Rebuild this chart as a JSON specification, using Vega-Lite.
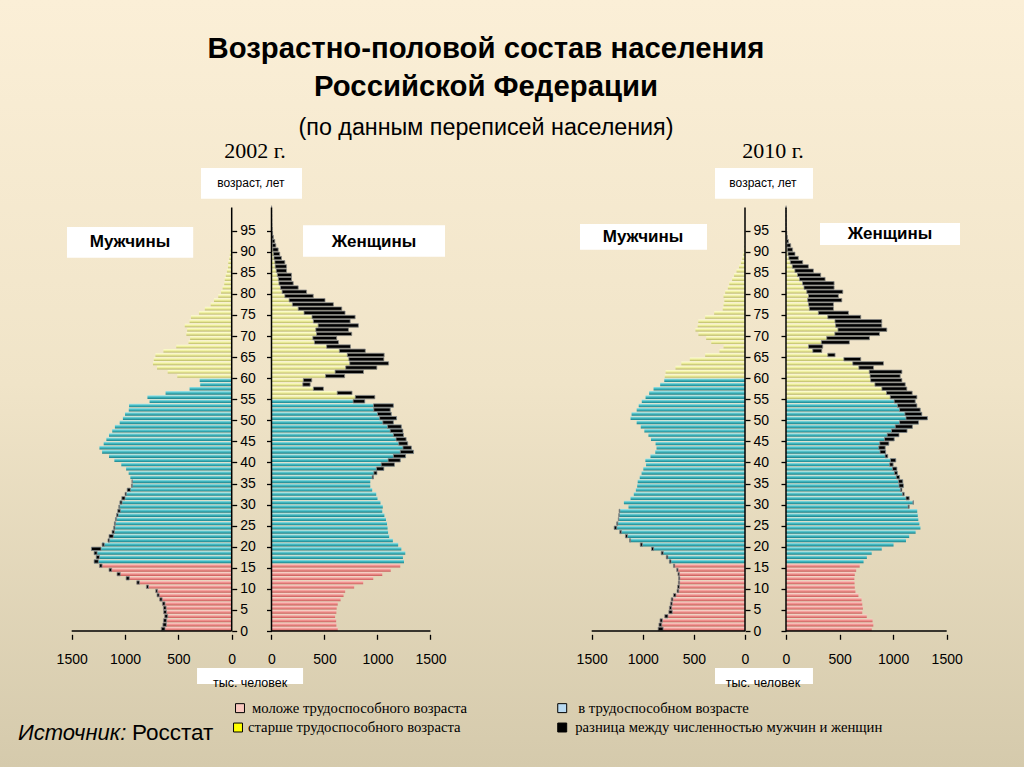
{
"$schema": "https://vega.github.io/schema/vega-lite/v6.json",
"width": 1024, "height": 767,
"autosize": {"type": "none"},
"padding": 0,
"background": "#ece1c5",
"config": {"view": {"stroke": null, "fill": {"gradient": "linear", "x1": 0, "y1": 0, "x2": 0, "y2": 1, "stops": [{"offset": 0, "color": "#fbefd7"}, {"offset": 0.5, "color": "#f0e4c8"}, {"offset": 1, "color": "#d5caac"}]}}},
"datasets": {"pop": [
{"year":2002,"age":0,"m":660,"f":625},{"year":2002,"age":1,"m":645,"f":612},{"year":2002,"age":2,"m":640,"f":610},{"year":2002,"age":3,"m":628,"f":600},{"year":2002,"age":4,"m":638,"f":612},
{"year":2002,"age":5,"m":640,"f":615},{"year":2002,"age":6,"m":650,"f":625},{"year":2002,"age":7,"m":675,"f":652},{"year":2002,"age":8,"m":700,"f":680},{"year":2002,"age":9,"m":712,"f":695},
{"year":2002,"age":10,"m":800,"f":780},{"year":2002,"age":11,"m":890,"f":865},{"year":2002,"age":12,"m":990,"f":960},{"year":2002,"age":13,"m":1075,"f":1045},{"year":2002,"age":14,"m":1150,"f":1125},
{"year":2002,"age":15,"m":1240,"f":1215},{"year":2002,"age":16,"m":1290,"f":1250},{"year":2002,"age":17,"m":1270,"f":1240},{"year":2002,"age":18,"m":1290,"f":1262},{"year":2002,"age":19,"m":1315,"f":1225},
{"year":2002,"age":20,"m":1215,"f":1195},{"year":2002,"age":21,"m":1160,"f":1145},{"year":2002,"age":22,"m":1150,"f":1110},{"year":2002,"age":23,"m":1122,"f":1100},{"year":2002,"age":24,"m":1106,"f":1095},
{"year":2002,"age":25,"m":1100,"f":1090},{"year":2002,"age":26,"m":1090,"f":1080},{"year":2002,"age":27,"m":1080,"f":1065},{"year":2002,"age":28,"m":1068,"f":1045},{"year":2002,"age":29,"m":1058,"f":1050},
{"year":2002,"age":30,"m":1048,"f":1028},{"year":2002,"age":31,"m":1030,"f":1000},{"year":2002,"age":32,"m":1000,"f":988},{"year":2002,"age":33,"m":980,"f":950},{"year":2002,"age":34,"m":940,"f":932},
{"year":2002,"age":35,"m":935,"f":932},{"year":2002,"age":36,"m":950,"f":962},{"year":2002,"age":37,"m":966,"f":995},{"year":2002,"age":38,"m":990,"f":1060},{"year":2002,"age":39,"m":1035,"f":1160},
{"year":2002,"age":40,"m":1100,"f":1215},{"year":2002,"age":41,"m":1150,"f":1265},{"year":2002,"age":42,"m":1215,"f":1340},{"year":2002,"age":43,"m":1240,"f":1320},{"year":2002,"age":44,"m":1200,"f":1285},
{"year":2002,"age":45,"m":1175,"f":1270},{"year":2002,"age":46,"m":1150,"f":1245},{"year":2002,"age":47,"m":1120,"f":1240},{"year":2002,"age":48,"m":1095,"f":1225},{"year":2002,"age":49,"m":1050,"f":1150},
{"year":2002,"age":50,"m":1020,"f":1180},{"year":2002,"age":51,"m":1000,"f":1130},{"year":2002,"age":52,"m":965,"f":1120},{"year":2002,"age":53,"m":962,"f":1150},{"year":2002,"age":54,"m":770,"f":880},
{"year":2002,"age":55,"m":790,"f":975},{"year":2002,"age":56,"m":620,"f":760},{"year":2002,"age":57,"m":395,"f":490},{"year":2002,"age":58,"m":295,"f":365},{"year":2002,"age":59,"m":300,"f":380},
{"year":2002,"age":60,"m":510,"f":690},{"year":2002,"age":61,"m":600,"f":868},{"year":2002,"age":62,"m":700,"f":994},{"year":2002,"age":63,"m":738,"f":1105},{"year":2002,"age":64,"m":730,"f":1060},
{"year":2002,"age":65,"m":715,"f":1063},{"year":2002,"age":66,"m":640,"f":885},{"year":2002,"age":67,"m":520,"f":745},{"year":2002,"age":68,"m":405,"f":632},{"year":2002,"age":69,"m":390,"f":615},
{"year":2002,"age":70,"m":425,"f":757},{"year":2002,"age":71,"m":418,"f":726},{"year":2002,"age":72,"m":440,"f":820},{"year":2002,"age":73,"m":395,"f":742},{"year":2002,"age":74,"m":382,"f":789},
{"year":2002,"age":75,"m":307,"f":694},{"year":2002,"age":76,"m":252,"f":663},{"year":2002,"age":77,"m":197,"f":584},{"year":2002,"age":78,"m":166,"f":505},{"year":2002,"age":79,"m":126,"f":394},
{"year":2002,"age":80,"m":100,"f":331},{"year":2002,"age":81,"m":85,"f":252},{"year":2002,"age":82,"m":70,"f":205},{"year":2002,"age":83,"m":65,"f":189},{"year":2002,"age":84,"m":55,"f":189},
{"year":2002,"age":85,"m":45,"f":142},{"year":2002,"age":86,"m":35,"f":142},{"year":2002,"age":87,"m":32,"f":126},{"year":2002,"age":88,"m":23,"f":94},{"year":2002,"age":89,"m":17,"f":78},
{"year":2002,"age":90,"m":12,"f":63},{"year":2002,"age":91,"m":8,"f":41},{"year":2002,"age":92,"m":6,"f":31},{"year":2002,"age":93,"m":4,"f":18},{"year":2002,"age":94,"m":3,"f":10},
{"year":2002,"age":95,"m":2,"f":6},{"year":2002,"age":96,"m":1.5,"f":4},{"year":2002,"age":97,"m":1,"f":3},{"year":2002,"age":98,"m":0.8,"f":2},{"year":2002,"age":99,"m":0.5,"f":1.5},{"year":2002,"age":100,"m":0.4,"f":1},
{"year":2010,"age":0,"m":850,"f":801},{"year":2010,"age":1,"m":842,"f":815},{"year":2010,"age":2,"m":832,"f":808},{"year":2010,"age":3,"m":785,"f":754},{"year":2010,"age":4,"m":745,"f":712},
{"year":2010,"age":5,"m":740,"f":718},{"year":2010,"age":6,"m":730,"f":712},{"year":2010,"age":7,"m":722,"f":705},{"year":2010,"age":8,"m":700,"f":676},{"year":2010,"age":9,"m":665,"f":648},
{"year":2010,"age":10,"m":660,"f":642},{"year":2010,"age":11,"m":652,"f":640},{"year":2010,"age":12,"m":650,"f":638},{"year":2010,"age":13,"m":656,"f":642},{"year":2010,"age":14,"m":668,"f":655},
{"year":2010,"age":15,"m":700,"f":688},{"year":2010,"age":16,"m":740,"f":724},{"year":2010,"age":17,"m":770,"f":755},{"year":2010,"age":18,"m":820,"f":800},{"year":2010,"age":19,"m":915,"f":894},
{"year":2010,"age":20,"m":1025,"f":1004},{"year":2010,"age":21,"m":1130,"f":1120},{"year":2010,"age":22,"m":1170,"f":1150},{"year":2010,"age":23,"m":1225,"f":1210},{"year":2010,"age":24,"m":1280,"f":1255},
{"year":2010,"age":25,"m":1255,"f":1245},{"year":2010,"age":26,"m":1240,"f":1235},{"year":2010,"age":27,"m":1235,"f":1230},{"year":2010,"age":28,"m":1232,"f":1225},{"year":2010,"age":29,"m":1140,"f":1150},
{"year":2010,"age":30,"m":1185,"f":1190},{"year":2010,"age":31,"m":1120,"f":1150},{"year":2010,"age":32,"m":1088,"f":1103},{"year":2010,"age":33,"m":1068,"f":1082},{"year":2010,"age":34,"m":1055,"f":1097},
{"year":2010,"age":35,"m":1050,"f":1090},{"year":2010,"age":36,"m":1030,"f":1060},{"year":2010,"age":37,"m":1012,"f":1040},{"year":2010,"age":38,"m":995,"f":1035},{"year":2010,"age":39,"m":968,"f":1000},
{"year":2010,"age":40,"m":975,"f":1025},{"year":2010,"age":41,"m":925,"f":950},{"year":2010,"age":42,"m":878,"f":930},{"year":2010,"age":43,"m":866,"f":926},{"year":2010,"age":44,"m":875,"f":960},
{"year":2010,"age":45,"m":920,"f":1010},{"year":2010,"age":46,"m":945,"f":1055},{"year":2010,"age":47,"m":985,"f":1130},{"year":2010,"age":48,"m":1020,"f":1180},{"year":2010,"age":49,"m":1060,"f":1237},
{"year":2010,"age":50,"m":1120,"f":1320},{"year":2010,"age":51,"m":1110,"f":1268},{"year":2010,"age":52,"m":1060,"f":1253},{"year":2010,"age":53,"m":1040,"f":1222},{"year":2010,"age":54,"m":1010,"f":1206},
{"year":2010,"age":55,"m":973,"f":1222},{"year":2010,"age":56,"m":938,"f":1178},{"year":2010,"age":57,"m":895,"f":1128},{"year":2010,"age":58,"m":830,"f":1113},{"year":2010,"age":59,"m":790,"f":1082},
{"year":2010,"age":60,"m":785,"f":1066},{"year":2010,"age":61,"m":777,"f":1082},{"year":2010,"age":62,"m":680,"f":817},{"year":2010,"age":63,"m":623,"f":910},{"year":2010,"age":64,"m":540,"f":698},
{"year":2010,"age":65,"m":390,"f":458},{"year":2010,"age":66,"m":250,"f":334},{"year":2010,"age":67,"m":210,"f":343},{"year":2010,"age":68,"m":330,"f":592},{"year":2010,"age":69,"m":380,"f":779},
{"year":2010,"age":70,"m":456,"f":873},{"year":2010,"age":71,"m":485,"f":941},{"year":2010,"age":72,"m":463,"f":894},{"year":2010,"age":73,"m":457,"f":894},{"year":2010,"age":74,"m":390,"f":698},
{"year":2010,"age":75,"m":302,"f":583},{"year":2010,"age":76,"m":218,"f":443},{"year":2010,"age":77,"m":210,"f":443},{"year":2010,"age":78,"m":202,"f":521},{"year":2010,"age":79,"m":210,"f":489},
{"year":2010,"age":80,"m":194,"f":530},{"year":2010,"age":81,"m":168,"f":449},{"year":2010,"age":82,"m":154,"f":449},{"year":2010,"age":83,"m":126,"f":365},{"year":2010,"age":84,"m":107,"f":324},
{"year":2010,"age":85,"m":83,"f":256},{"year":2010,"age":86,"m":59,"f":209},{"year":2010,"age":87,"m":40,"f":156},{"year":2010,"age":88,"m":27,"f":115},{"year":2010,"age":89,"m":18,"f":84},
{"year":2010,"age":90,"m":11,"f":62},{"year":2010,"age":91,"m":7,"f":44},{"year":2010,"age":92,"m":4,"f":22},{"year":2010,"age":93,"m":3,"f":13},{"year":2010,"age":94,"m":2,"f":8},
{"year":2010,"age":95,"m":1.5,"f":5},{"year":2010,"age":96,"m":1,"f":3},{"year":2010,"age":97,"m":0.7,"f":2},{"year":2010,"age":98,"m":0.5,"f":1.5},{"year":2010,"age":99,"m":0.3,"f":1},{"year":2010,"age":100,"m":0.2,"f":0.8}
]},
"data": {"name": "pop"},
"resolve": {"scale": {"x": "independent"}, "axis": {"x": "independent", "y": "independent"}},
"layer": [
{"layer": [
 {"transform": [{"filter": "datum.year === 2002 && datum.age < 16"}],
  "mark": {"type": "bar", "orient": "horizontal", "size": 3.6, "yOffset": -2.135, "color": {"gradient": "linear", "x1": 0, "y1": 0, "x2": 0, "y2": 1, "stops": [{"offset": 0, "color": "#fcd3cf"}, {"offset": 0.5, "color": "#f0918d"}, {"offset": 1, "color": "#c65c5a"}]}},
  "encoding": {"x": {"field": "m", "type": "quantitative", "scale": {"domain": [-7427.5, 2172.1], "reverse": true, "nice": false, "zero": false}, "axis": {"values": [0, 500, 1000, 1500], "orient": "bottom", "offset": -132.7, "domain": false, "grid": false, "tickSize": 5, "tickColor": "#000", "tickWidth": 1.3, "labelFont": "Liberation Sans", "labelFontSize": 14, "labelColor": "#000", "labelPadding": 13, "labelFlush": false, "labelOverlap": false, "format": "d", "title": null}},
   "y": {"field": "age", "type": "quantitative", "scale": {"domain": [-31.08, 148.55], "nice": false, "zero": false}, "axis": {"values": [0,5,10,15,20,25,30,35,40,45,50,55,60,65,70,75,80,85,90,95], "orient": "right", "offset": -792.3, "domain": false, "grid": false, "tickSize": 5, "tickColor": "#000", "tickWidth": 1.3, "labelFont": "Liberation Sans", "labelFontSize": 14, "labelColor": "#000", "labelPadding": 3, "labelOverlap": false, "labelFlush": false, "title": null}}}},
 {"transform": [{"filter": "datum.year === 2002 && datum.age >= 16 && datum.age < 60"}],
  "mark": {"type": "bar", "orient": "horizontal", "size": 3.6, "yOffset": -2.135, "color": {"gradient": "linear", "x1": 0, "y1": 0, "x2": 0, "y2": 1, "stops": [{"offset": 0, "color": "#a9e7ea"}, {"offset": 0.5, "color": "#3fb8c0"}, {"offset": 1, "color": "#1e7f88"}]}},
  "encoding": {"x": {"field": "m", "type": "quantitative", "scale": {"domain": [-7427.5, 2172.1], "reverse": true, "nice": false, "zero": false}},
   "y": {"field": "age", "type": "quantitative", "scale": {"domain": [-31.08, 148.55], "nice": false, "zero": false}}}},
 {"transform": [{"filter": "datum.year === 2002 && datum.age >= 60"}],
  "mark": {"type": "bar", "orient": "horizontal", "size": 3.6, "yOffset": -2.135, "color": {"gradient": "linear", "x1": 0, "y1": 0, "x2": 0, "y2": 1, "stops": [{"offset": 0, "color": "#fefed8"}, {"offset": 0.5, "color": "#eeee9c"}, {"offset": 1, "color": "#b9b967"}]}},
  "encoding": {"x": {"field": "m", "type": "quantitative", "scale": {"domain": [-7427.5, 2172.1], "reverse": true, "nice": false, "zero": false}},
   "y": {"field": "age", "type": "quantitative", "scale": {"domain": [-31.08, 148.55], "nice": false, "zero": false}}}},
 {"transform": [{"filter": "datum.year === 2002 && datum.m > datum.f"}],
  "mark": {"type": "bar", "orient": "horizontal", "size": 3.4, "yOffset": -2.135, "color": "#000", "stroke": "#8c8c8c", "strokeWidth": 0.8},
  "encoding": {"x": {"field": "f", "type": "quantitative", "scale": {"domain": [-7427.5, 2172.1], "reverse": true, "nice": false, "zero": false}}, "x2": {"field": "m"},
   "y": {"field": "age", "type": "quantitative", "scale": {"domain": [-31.08, 148.55], "nice": false, "zero": false}}}},
 {"data": {"values": [{}]},
  "encoding": {"x": {"datum": 0, "type": "quantitative", "scale": {"domain": [-7427.5, 2172.1], "reverse": true, "nice": false, "zero": false}},
   "y": {"datum": 0, "type": "quantitative", "scale": {"domain": [-31.08, 148.55], "nice": false, "zero": false}}},
  "layer": [
   {"mark": {"type": "rule", "color": "#000", "strokeWidth": 1.5}, "encoding": {"y2": {"datum": 100.5}}},
   {"mark": {"type": "rule", "color": "#000", "strokeWidth": 1.5}, "encoding": {"x2": {"datum": 1500}}},
   {"mark": {"type": "rect", "fill": "#ffffff"}, "encoding": {"x": {"datum": 1544.2, "type": "quantitative"}, "x2": {"datum": 361}, "y": {"datum": 95.85, "type": "quantitative"}, "y2": {"datum": 88.6}}},
   {"mark": {"type": "text", "text": "Мужчины", "font": "Liberation Sans", "fontWeight": "bold", "fontSize": 17, "align": "center", "baseline": "middle", "color": "#000"}, "encoding": {"x": {"datum": 953.4, "type": "quantitative"}, "y": {"datum": 92.2, "type": "quantitative"}}},
   {"mark": {"type": "rect", "fill": "#ffffff"}, "encoding": {"x": {"datum": 288, "type": "quantitative"}, "x2": {"datum": -659}, "y": {"datum": 109.9, "type": "quantitative"}, "y2": {"datum": 102.6}}},
   {"mark": {"type": "text", "text": "возраст, лет", "font": "Liberation Sans", "fontSize": 12, "align": "center", "baseline": "middle", "color": "#000"}, "encoding": {"x": {"datum": -180, "type": "quantitative"}, "y": {"datum": 106.4, "type": "quantitative"}}},
   {"mark": {"type": "rect", "fill": "#ffffff"}, "encoding": {"x": {"datum": 325, "type": "quantitative"}, "x2": {"datum": -669}, "y": {"datum": -8.8, "type": "quantitative"}, "y2": {"datum": -12.6}}},
   {"mark": {"type": "text", "text": "тыс. человек", "font": "Liberation Sans", "fontSize": 12.5, "align": "center", "baseline": "middle", "color": "#000"}, "encoding": {"x": {"datum": -172, "type": "quantitative"}, "y": {"datum": -12.3, "type": "quantitative"}}},
   {"mark": {"type": "text", "text": "2002 г.", "font": "Liberation Serif", "fontSize": 22, "align": "center", "baseline": "alphabetic", "color": "#000"}, "encoding": {"x": {"datum": -218.4, "type": "quantitative"}, "y": {"datum": 112.2, "type": "quantitative"}}},
   {"mark": {"type": "text", "text": "Источник:", "font": "Liberation Sans", "fontStyle": "italic", "fontSize": 22, "align": "left", "baseline": "alphabetic", "color": "#000"}, "encoding": {"x": {"datum": 2003.4, "type": "quantitative"}, "y": {"datum": -25.9, "type": "quantitative"}}},
   {"mark": {"type": "text", "text": "Росстат", "font": "Liberation Sans", "fontSize": 22.5, "align": "left", "baseline": "alphabetic", "color": "#000"}, "encoding": {"x": {"datum": 934.7, "type": "quantitative"}, "y": {"datum": -25.9, "type": "quantitative"}}},
   {"mark": {"type": "square", "size": 80, "filled": true, "fill": "#f9c8bf", "stroke": "#000", "strokeWidth": 1, "opacity": 1}, "encoding": {"x": {"datum": -77.8, "type": "quantitative"}, "y": {"datum": -18.3, "type": "quantitative"}}},
   {"mark": {"type": "text", "text": "моложе трудоспособного возраста", "font": "Liberation Serif", "fontSize": 14.7, "align": "left", "baseline": "middle", "color": "#000"}, "encoding": {"x": {"datum": -190.3, "type": "quantitative"}, "y": {"datum": -18.4, "type": "quantitative"}}},
   {"mark": {"type": "square", "size": 80, "filled": true, "fill": "#ffff00", "stroke": "#000", "strokeWidth": 1, "opacity": 1}, "encoding": {"x": {"datum": -59.1, "type": "quantitative"}, "y": {"datum": -22.9, "type": "quantitative"}}},
   {"mark": {"type": "text", "text": "старше трудоспособного возраста", "font": "Liberation Serif", "fontSize": 14.7, "align": "left", "baseline": "middle", "color": "#000"}, "encoding": {"x": {"datum": -152.8, "type": "quantitative"}, "y": {"datum": -23.1, "type": "quantitative"}}},
   {"mark": {"type": "square", "size": 80, "filled": true, "fill": "#b8d9f0", "stroke": "#000", "strokeWidth": 1, "opacity": 1}, "encoding": {"x": {"datum": -3098.5, "type": "quantitative"}, "y": {"datum": -18.3, "type": "quantitative"}}},
   {"mark": {"type": "text", "text": "в трудоспособном возрасте", "font": "Liberation Serif", "fontSize": 14.7, "align": "left", "baseline": "middle", "color": "#000"}, "encoding": {"x": {"datum": -3248.5, "type": "quantitative"}, "y": {"datum": -18.4, "type": "quantitative"}}},
   {"mark": {"type": "square", "size": 80, "filled": true, "fill": "#000000", "stroke": "#000", "strokeWidth": 1, "opacity": 1}, "encoding": {"x": {"datum": -3098.5, "type": "quantitative"}, "y": {"datum": -22.9, "type": "quantitative"}}},
   {"mark": {"type": "text", "text": "разница между численностью мужчин и женщин", "font": "Liberation Serif", "fontSize": 14.7, "align": "left", "baseline": "middle", "color": "#000"}, "encoding": {"x": {"datum": -3220.4, "type": "quantitative"}, "y": {"datum": -23.1, "type": "quantitative"}}}
  ]}
]},
{"layer": [
 {"transform": [{"filter": "datum.year === 2002 && datum.age < 16"}],
  "mark": {"type": "bar", "orient": "horizontal", "size": 3.6, "yOffset": -2.135, "color": {"gradient": "linear", "x1": 0, "y1": 0, "x2": 0, "y2": 1, "stops": [{"offset": 0, "color": "#fcd3cf"}, {"offset": 0.5, "color": "#f0918d"}, {"offset": 1, "color": "#c65c5a"}]}},
  "encoding": {"x": {"field": "f", "type": "quantitative", "scale": {"domain": [-2561.3, 7099.1], "nice": false, "zero": false}, "axis": {"values": [0, 500, 1000, 1500], "orient": "bottom", "offset": -132.7, "domain": false, "grid": false, "tickSize": 5, "tickColor": "#000", "tickWidth": 1.3, "labelFont": "Liberation Sans", "labelFontSize": 14, "labelColor": "#000", "labelPadding": 13, "labelFlush": false, "labelOverlap": false, "format": "d", "title": null}},
   "y": {"field": "age", "type": "quantitative", "scale": {"domain": [-31.08, 148.55], "nice": false, "zero": false}, "axis": {"values": [0,5,10,15,20,25,30,35,40,45,50,55,60,65,70,75,80,85,90,95], "orient": "left", "offset": -271.5, "domain": false, "grid": false, "tickSize": 5, "tickColor": "#000", "tickWidth": 1.3, "labels": false, "title": null}}}},
 {"transform": [{"filter": "datum.year === 2002 && datum.age >= 16 && datum.age < 55"}],
  "mark": {"type": "bar", "orient": "horizontal", "size": 3.6, "yOffset": -2.135, "color": {"gradient": "linear", "x1": 0, "y1": 0, "x2": 0, "y2": 1, "stops": [{"offset": 0, "color": "#a9e7ea"}, {"offset": 0.5, "color": "#3fb8c0"}, {"offset": 1, "color": "#1e7f88"}]}},
  "encoding": {"x": {"field": "f", "type": "quantitative", "scale": {"domain": [-2561.3, 7099.1], "nice": false, "zero": false}},
   "y": {"field": "age", "type": "quantitative", "scale": {"domain": [-31.08, 148.55], "nice": false, "zero": false}}}},
 {"transform": [{"filter": "datum.year === 2002 && datum.age >= 55"}],
  "mark": {"type": "bar", "orient": "horizontal", "size": 3.6, "yOffset": -2.135, "color": {"gradient": "linear", "x1": 0, "y1": 0, "x2": 0, "y2": 1, "stops": [{"offset": 0, "color": "#fefed8"}, {"offset": 0.5, "color": "#eeee9c"}, {"offset": 1, "color": "#b9b967"}]}},
  "encoding": {"x": {"field": "f", "type": "quantitative", "scale": {"domain": [-2561.3, 7099.1], "nice": false, "zero": false}},
   "y": {"field": "age", "type": "quantitative", "scale": {"domain": [-31.08, 148.55], "nice": false, "zero": false}}}},
 {"transform": [{"filter": "datum.year === 2002 && datum.f > datum.m"}],
  "mark": {"type": "bar", "orient": "horizontal", "size": 3.4, "yOffset": -2.135, "color": "#000", "stroke": "#8c8c8c", "strokeWidth": 0.8},
  "encoding": {"x": {"field": "m", "type": "quantitative", "scale": {"domain": [-2561.3, 7099.1], "nice": false, "zero": false}}, "x2": {"field": "f"},
   "y": {"field": "age", "type": "quantitative", "scale": {"domain": [-31.08, 148.55], "nice": false, "zero": false}}}},
 {"data": {"values": [{}]},
  "encoding": {"x": {"datum": 0, "type": "quantitative", "scale": {"domain": [-2561.3, 7099.1], "nice": false, "zero": false}},
   "y": {"datum": 0, "type": "quantitative", "scale": {"domain": [-31.08, 148.55], "nice": false, "zero": false}}},
  "layer": [
   {"mark": {"type": "rule", "color": "#000", "strokeWidth": 1.5}, "encoding": {"y2": {"datum": 100.5}}},
   {"mark": {"type": "rule", "color": "#000", "strokeWidth": 1.5}, "encoding": {"x2": {"datum": 1500}}},
   {"mark": {"type": "rect", "fill": "#ffffff"}, "encoding": {"x": {"datum": 297.2, "type": "quantitative"}, "x2": {"datum": 1636.8}, "y": {"datum": 96.3, "type": "quantitative"}, "y2": {"datum": 88.8}}},
   {"mark": {"type": "text", "text": "Женщины", "font": "Liberation Sans", "fontWeight": "bold", "fontSize": 17, "align": "center", "baseline": "middle", "color": "#000"}, "encoding": {"x": {"datum": 967, "type": "quantitative"}, "y": {"datum": 92.4, "type": "quantitative"}}},
   {"mark": {"type": "text", "text": "Возрастно-половой состав населения", "font": "Liberation Sans", "fontWeight": "bold", "fontSize": 29.3, "align": "center", "baseline": "alphabetic", "color": "#000"}, "encoding": {"x": {"datum": 2023.6, "type": "quantitative"}, "y": {"datum": 135.9, "type": "quantitative"}}},
   {"mark": {"type": "text", "text": "Российской Федерации", "font": "Liberation Sans", "fontWeight": "bold", "fontSize": 29.3, "align": "center", "baseline": "alphabetic", "color": "#000"}, "encoding": {"x": {"datum": 2023.6, "type": "quantitative"}, "y": {"datum": 126.9, "type": "quantitative"}}},
   {"mark": {"type": "text", "text": "(по данным переписей населения)", "font": "Liberation Sans", "fontSize": 23.3, "align": "center", "baseline": "alphabetic", "color": "#000"}, "encoding": {"x": {"datum": 2023.6, "type": "quantitative"}, "y": {"datum": 117.6, "type": "quantitative"}}}
  ]}
]},
{"layer": [
 {"transform": [{"filter": "datum.year === 2010 && datum.age < 16"}],
  "mark": {"type": "bar", "orient": "horizontal", "size": 3.6, "yOffset": -2.135, "color": {"gradient": "linear", "x1": 0, "y1": 0, "x2": 0, "y2": 1, "stops": [{"offset": 0, "color": "#fcd3cf"}, {"offset": 0.5, "color": "#f0918d"}, {"offset": 1, "color": "#c65c5a"}]}},
  "encoding": {"x": {"field": "m", "type": "quantitative", "scale": {"domain": [-2729.9, 7289.6], "reverse": true, "nice": false, "zero": false}, "axis": {"values": [0, 500, 1000, 1500], "orient": "bottom", "offset": -132.7, "domain": false, "grid": false, "tickSize": 5, "tickColor": "#000", "tickWidth": 1.3, "labelFont": "Liberation Sans", "labelFontSize": 14, "labelColor": "#000", "labelPadding": 13, "labelFlush": false, "labelOverlap": false, "format": "d", "title": null}},
   "y": {"field": "age", "type": "quantitative", "scale": {"domain": [-31.08, 148.55], "nice": false, "zero": false}, "axis": {"values": [0,5,10,15,20,25,30,35,40,45,50,55,60,65,70,75,80,85,90,95], "orient": "right", "offset": -279, "domain": false, "grid": false, "tickSize": 5, "tickColor": "#000", "tickWidth": 1.3, "labelFont": "Liberation Sans", "labelFontSize": 14, "labelColor": "#000", "labelPadding": 3, "labelOverlap": false, "labelFlush": false, "title": null}}}},
 {"transform": [{"filter": "datum.year === 2010 && datum.age >= 16 && datum.age < 60"}],
  "mark": {"type": "bar", "orient": "horizontal", "size": 3.6, "yOffset": -2.135, "color": {"gradient": "linear", "x1": 0, "y1": 0, "x2": 0, "y2": 1, "stops": [{"offset": 0, "color": "#a9e7ea"}, {"offset": 0.5, "color": "#3fb8c0"}, {"offset": 1, "color": "#1e7f88"}]}},
  "encoding": {"x": {"field": "m", "type": "quantitative", "scale": {"domain": [-2729.9, 7289.6], "reverse": true, "nice": false, "zero": false}},
   "y": {"field": "age", "type": "quantitative", "scale": {"domain": [-31.08, 148.55], "nice": false, "zero": false}}}},
 {"transform": [{"filter": "datum.year === 2010 && datum.age >= 60"}],
  "mark": {"type": "bar", "orient": "horizontal", "size": 3.6, "yOffset": -2.135, "color": {"gradient": "linear", "x1": 0, "y1": 0, "x2": 0, "y2": 1, "stops": [{"offset": 0, "color": "#fefed8"}, {"offset": 0.5, "color": "#eeee9c"}, {"offset": 1, "color": "#b9b967"}]}},
  "encoding": {"x": {"field": "m", "type": "quantitative", "scale": {"domain": [-2729.9, 7289.6], "reverse": true, "nice": false, "zero": false}},
   "y": {"field": "age", "type": "quantitative", "scale": {"domain": [-31.08, 148.55], "nice": false, "zero": false}}}},
 {"transform": [{"filter": "datum.year === 2010 && datum.m > datum.f"}],
  "mark": {"type": "bar", "orient": "horizontal", "size": 3.4, "yOffset": -2.135, "color": "#000", "stroke": "#8c8c8c", "strokeWidth": 0.8},
  "encoding": {"x": {"field": "f", "type": "quantitative", "scale": {"domain": [-2729.9, 7289.6], "reverse": true, "nice": false, "zero": false}}, "x2": {"field": "m"},
   "y": {"field": "age", "type": "quantitative", "scale": {"domain": [-31.08, 148.55], "nice": false, "zero": false}}}},
 {"data": {"values": [{}]},
  "encoding": {"x": {"datum": 0, "type": "quantitative", "scale": {"domain": [-2729.9, 7289.6], "reverse": true, "nice": false, "zero": false}},
   "y": {"datum": 0, "type": "quantitative", "scale": {"domain": [-31.08, 148.55], "nice": false, "zero": false}}},
  "layer": [
   {"mark": {"type": "rule", "color": "#000", "strokeWidth": 1.5}, "encoding": {"y2": {"datum": 100.5}}},
   {"mark": {"type": "rule", "color": "#000", "strokeWidth": 1.5}, "encoding": {"x2": {"datum": 1500}}},
   {"mark": {"type": "rect", "fill": "#ffffff"}, "encoding": {"x": {"datum": 1614.5, "type": "quantitative"}, "x2": {"datum": 371.8}, "y": {"datum": 96.6, "type": "quantitative"}, "y2": {"datum": 90.5}}},
   {"mark": {"type": "text", "text": "Мужчины", "font": "Liberation Sans", "fontWeight": "bold", "fontSize": 17, "align": "center", "baseline": "middle", "color": "#000"}, "encoding": {"x": {"datum": 998, "type": "quantitative"}, "y": {"datum": 93.5, "type": "quantitative"}}},
   {"mark": {"type": "rect", "fill": "#ffffff"}, "encoding": {"x": {"datum": 293.5, "type": "quantitative"}, "x2": {"datum": -665}, "y": {"datum": 109.9, "type": "quantitative"}, "y2": {"datum": 102.6}}},
   {"mark": {"type": "text", "text": "возраст, лет", "font": "Liberation Sans", "fontSize": 12, "align": "center", "baseline": "middle", "color": "#000"}, "encoding": {"x": {"datum": -176, "type": "quantitative"}, "y": {"datum": 106.4, "type": "quantitative"}}},
   {"mark": {"type": "rect", "fill": "#ffffff"}, "encoding": {"x": {"datum": 293.5, "type": "quantitative"}, "x2": {"datum": -665}, "y": {"datum": -8.8, "type": "quantitative"}, "y2": {"datum": -12.6}}},
   {"mark": {"type": "text", "text": "тыс. человек", "font": "Liberation Sans", "fontSize": 12.5, "align": "center", "baseline": "middle", "color": "#000"}, "encoding": {"x": {"datum": -176, "type": "quantitative"}, "y": {"datum": -12.3, "type": "quantitative"}}},
   {"mark": {"type": "text", "text": "2010 г.", "font": "Liberation Serif", "fontSize": 22, "align": "center", "baseline": "alphabetic", "color": "#000"}, "encoding": {"x": {"datum": -274, "type": "quantitative"}, "y": {"datum": 112.2, "type": "quantitative"}}}
  ]}
]},
{"layer": [
 {"transform": [{"filter": "datum.year === 2010 && datum.age < 16"}],
  "mark": {"type": "bar", "orient": "horizontal", "size": 3.6, "yOffset": -2.135, "color": {"gradient": "linear", "x1": 0, "y1": 0, "x2": 0, "y2": 1, "stops": [{"offset": 0, "color": "#fcd3cf"}, {"offset": 0.5, "color": "#f0918d"}, {"offset": 1, "color": "#c65c5a"}]}},
  "encoding": {"x": {"field": "f", "type": "quantitative", "scale": {"domain": [-7336.9, 2221.6], "nice": false, "zero": false}, "axis": {"values": [0, 500, 1000, 1500], "orient": "bottom", "offset": -132.7, "domain": false, "grid": false, "tickSize": 5, "tickColor": "#000", "tickWidth": 1.3, "labelFont": "Liberation Sans", "labelFontSize": 14, "labelColor": "#000", "labelPadding": 13, "labelFlush": false, "labelOverlap": false, "format": "d", "title": null}},
   "y": {"field": "age", "type": "quantitative", "scale": {"domain": [-31.08, 148.55], "nice": false, "zero": false}, "axis": {"values": [0,5,10,15,20,25,30,35,40,45,50,55,60,65,70,75,80,85,90,95], "orient": "left", "offset": -786, "domain": false, "grid": false, "tickSize": 5, "tickColor": "#000", "tickWidth": 1.3, "labels": false, "title": null}}}},
 {"transform": [{"filter": "datum.year === 2010 && datum.age >= 16 && datum.age < 55"}],
  "mark": {"type": "bar", "orient": "horizontal", "size": 3.6, "yOffset": -2.135, "color": {"gradient": "linear", "x1": 0, "y1": 0, "x2": 0, "y2": 1, "stops": [{"offset": 0, "color": "#a9e7ea"}, {"offset": 0.5, "color": "#3fb8c0"}, {"offset": 1, "color": "#1e7f88"}]}},
  "encoding": {"x": {"field": "f", "type": "quantitative", "scale": {"domain": [-7336.9, 2221.6], "nice": false, "zero": false}},
   "y": {"field": "age", "type": "quantitative", "scale": {"domain": [-31.08, 148.55], "nice": false, "zero": false}}}},
 {"transform": [{"filter": "datum.year === 2010 && datum.age >= 55"}],
  "mark": {"type": "bar", "orient": "horizontal", "size": 3.6, "yOffset": -2.135, "color": {"gradient": "linear", "x1": 0, "y1": 0, "x2": 0, "y2": 1, "stops": [{"offset": 0, "color": "#fefed8"}, {"offset": 0.5, "color": "#eeee9c"}, {"offset": 1, "color": "#b9b967"}]}},
  "encoding": {"x": {"field": "f", "type": "quantitative", "scale": {"domain": [-7336.9, 2221.6], "nice": false, "zero": false}},
   "y": {"field": "age", "type": "quantitative", "scale": {"domain": [-31.08, 148.55], "nice": false, "zero": false}}}},
 {"transform": [{"filter": "datum.year === 2010 && datum.f > datum.m"}],
  "mark": {"type": "bar", "orient": "horizontal", "size": 3.4, "yOffset": -2.135, "color": "#000", "stroke": "#8c8c8c", "strokeWidth": 0.8},
  "encoding": {"x": {"field": "m", "type": "quantitative", "scale": {"domain": [-7336.9, 2221.6], "nice": false, "zero": false}}, "x2": {"field": "f"},
   "y": {"field": "age", "type": "quantitative", "scale": {"domain": [-31.08, 148.55], "nice": false, "zero": false}}}},
 {"data": {"values": [{}]},
  "encoding": {"x": {"datum": 0, "type": "quantitative", "scale": {"domain": [-7336.9, 2221.6], "nice": false, "zero": false}},
   "y": {"datum": 0, "type": "quantitative", "scale": {"domain": [-31.08, 148.55], "nice": false, "zero": false}}},
  "layer": [
   {"mark": {"type": "rule", "color": "#000", "strokeWidth": 1.5}, "encoding": {"y2": {"datum": 100.5}}},
   {"mark": {"type": "rule", "color": "#000", "strokeWidth": 1.5}, "encoding": {"x2": {"datum": 1500}}},
   {"mark": {"type": "rect", "fill": "#ffffff"}, "encoding": {"x": {"datum": 317.4, "type": "quantitative"}, "x2": {"datum": 1624.2}, "y": {"datum": 96.8, "type": "quantitative"}, "y2": {"datum": 91.6}}},
   {"mark": {"type": "text", "text": "Женщины", "font": "Liberation Sans", "fontWeight": "bold", "fontSize": 17, "align": "center", "baseline": "middle", "color": "#000"}, "encoding": {"x": {"datum": 970.8, "type": "quantitative"}, "y": {"datum": 94.1, "type": "quantitative"}}}
  ]}
]}
]
}
